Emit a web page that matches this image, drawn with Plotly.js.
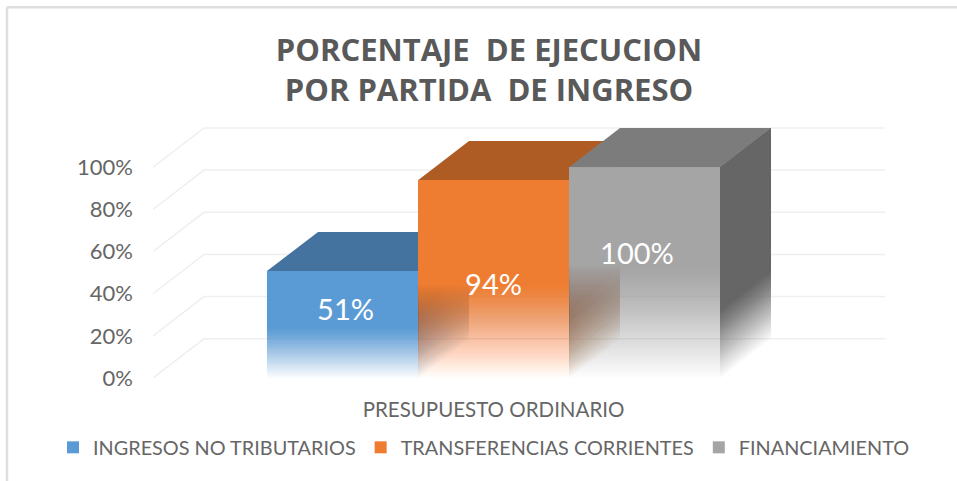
<!DOCTYPE html>
<html>
<head>
<meta charset="utf-8">
<script src="https://cdn.plot.ly/plotly-3.0.1.min.js"></script>
<style>html,body{margin:0;padding:0;background:#fff;}#chart{width:957px;height:481px;}</style>
</head>
<body>
<div id="chart"></div>
<script>
const categories = ["PRESUPUESTO ORDINARIO"];
const seriesNames = ["INGRESOS NO TRIBUTARIOS", "TRANSFERENCIAS CORRIENTES", "FINANCIAMIENTO"];
const seriesValues = [50.7, 93.8, 100];
const tickValues = [0, 20, 40, 60, 80, 100];
const tickLabels = ["0%", "20%", "40%", "60%", "80%", "100%"];
const labelLevels = [31, 42.6, 57.6];
const labelX = [1.02, 2, 2.95];

const frontColors = [[91,155,213],[239,125,49],[165,165,165]];
const topColors = ["#44739f", "#ae5c24", "#7c7c7c"];
const sideColors = [[62,104,146],[150,80,34],[102,102,102]];
const fadeTops = [24, 45, 54];
const sideFade = 33;

const slots = [1, 2, 3];
const depthX = 51 / 151;
const depthY = 18.6;
const xRange = [-0.255, -0.255 + 732 / 151];
const yRange = [0, 120];

const rgba = (c, a) => `rgba(${c[0]},${c[1]},${c[2]},${a})`;
const traces = [];

// wall and floor grid
const gx = [], gy = [];
tickValues.forEach(v => {
  gx.push(xRange[0], xRange[0] + depthX, xRange[1], null);
  gy.push(v, v + depthY, v + depthY, null);
});
traces.push({type:'scatter', mode:'lines', x:gx, y:gy, line:{color:'#efefef', width:1.5}, hoverinfo:'skip', showlegend:false});

// depth faces: nested layers whose alpha accumulates upward, fading toward the floor
seriesValues.forEach((v, i) => {
  const r = slots[i] + 0.5;
  for (let k = 0; k < sideFade; k++) {
    traces.push({
      type:'scatter', mode:'none', fill:'toself', fillcolor:rgba(sideColors[i], (1 / (sideFade - k)).toFixed(4)),
      hoverinfo:'skip', showlegend:false,
      x:[r, r + depthX, r + depthX, r, r],
      y:[k, k + depthY, v + depthY, v, k]
    });
  }
  const l = slots[i] - 0.5;
  traces.push({
    type:'scatter', mode:'none', fill:'toself', fillcolor:topColors[i], hoverinfo:'skip', showlegend:false,
    x:[l, r, r + depthX, l + depthX, l],
    y:[v, v, v + depthY, v + depthY, v]
  });
});

// front faces: same nesting, bars drawn on the overlay subplot
seriesValues.forEach((v, i) => {
  const ft = fadeTops[i];
  for (let k = 0; k < ft; k++) {
    traces.push({
      type:'bar', xaxis:'x2', yaxis:'y2', name:seriesNames[i], x:[slots[i]], y:[v - k], base:[k], width:1,
      marker:{color:rgba(frontColors[i], k === ft - 1 ? 0.999 : (1 / (ft - k)).toFixed(4)), line:{width:0}},
      hoverinfo:'skip', showlegend:k === ft - 1
    });
  }
});

// data labels
traces.push({
  type:'scatter', mode:'text', xaxis:'x2', yaxis:'y2', x:labelX, y:labelLevels,
  text:seriesValues.map(v => Math.round(v) + '%'), textposition:'middle center',
  textfont:{family:'Lato, sans-serif', size:29, color:'#ffffff'}, hoverinfo:'skip', showlegend:false, cliponaxis:false
});

const layout = {
  width:957, height:481, autosize:false,
  paper_bgcolor:'#ffffff', plot_bgcolor:'rgba(0,0,0,0)',
  margin:{l:153, r:72, t:124.8, b:103, pad:0, autoexpand:false},
  barmode:'overlay',
  title:{
    text:'PORCENTAJE  DE EJECUCION<br>POR PARTIDA  DE INGRESO',
    font:{family:'"Open Sans", sans-serif', size:31, color:'#595959', weight:700},
    x:489/957, xanchor:'center', xref:'container', y:0.873, yanchor:'top', yref:'container'
  },
  xaxis:{
    range:xRange, tickmode:'array', tickvals:[2], ticktext:categories, showgrid:false, zeroline:false,
    ticks:'', ticklabelstandoff:17, tickfont:{family:'Lato, sans-serif', size:20.5, color:'#666666'}, fixedrange:true
  },
  yaxis:{
    range:yRange, tickmode:'array', tickvals:tickValues, ticktext:tickLabels, showgrid:false, zeroline:false,
    ticks:'', ticklabelstandoff:19, tickfont:{family:'Lato, sans-serif', size:22, color:'#666666'}, fixedrange:true
  },
  xaxis2:{overlaying:'x', range:xRange, visible:false, fixedrange:true},
  yaxis2:{overlaying:'y', range:yRange, visible:false, fixedrange:true},
  legend:{
    orientation:'h', x:-0.1366, xanchor:'left', y:-0.1973, yanchor:'top',
    font:{family:'Lato, sans-serif', size:19.85, color:'#666666'}, bgcolor:'rgba(0,0,0,0)', traceorder:'normal'
  },
  shapes:[
    {type:'line', xref:'paper', yref:'paper', x0:-0.1995, x1:1.1, y0:1.4652, y1:1.4652, line:{color:'#dedede', width:2.5}},
    {type:'line', xref:'paper', yref:'paper', x0:-0.1995, x1:-0.1995, y0:1.4652, y1:-0.41, line:{color:'#dedede', width:2.5}}
  ]
};
Plotly.newPlot('chart', traces, layout, {displayModeBar:false});
</script>
</body>
</html>
